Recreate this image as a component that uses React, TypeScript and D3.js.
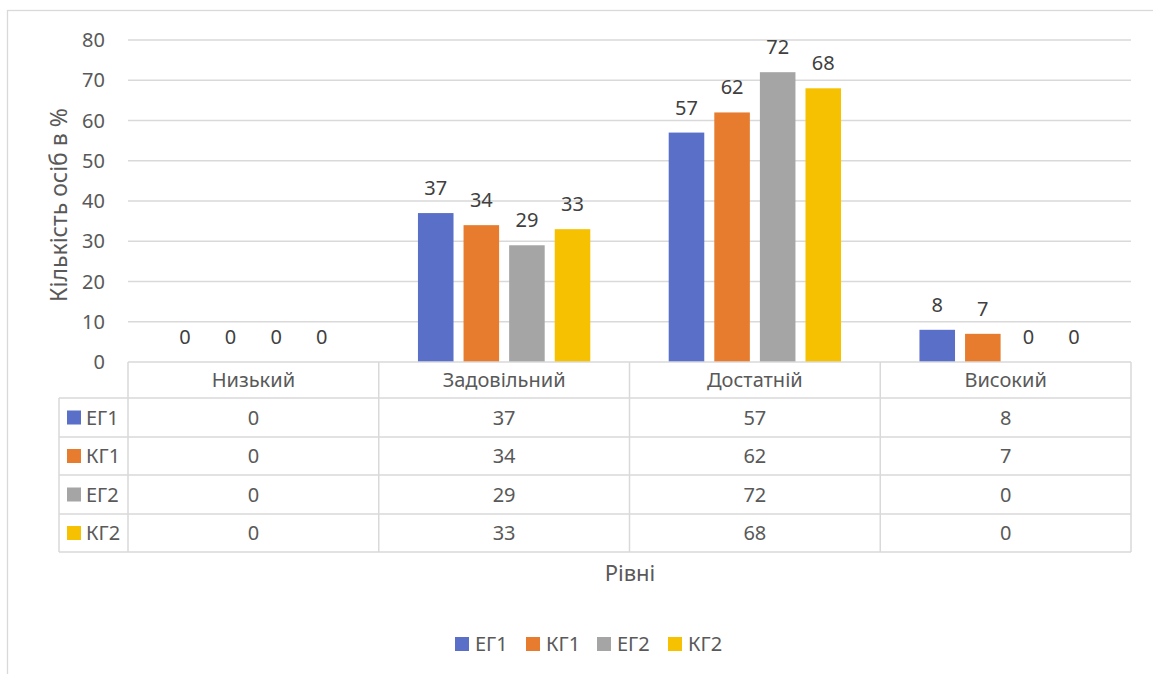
import React from "react";
import * as d3 from "d3";

const categories = ["Низький", "Задовільний", "Достатній", "Високий"];
const seriesNames = ["ЕГ1", "КГ1", "ЕГ2", "КГ2"];
const eg1 = [0, 37, 57, 8];
const kg1 = [0, 34, 62, 7];
const eg2 = [0, 29, 72, 0];
const kg2 = [0, 33, 68, 0];
const yTicks = [0, 10, 20, 30, 40, 50, 60, 70, 80];
const colors = ["#5A6FC7", "#E77C2F", "#A5A5A5", "#F6C100"];

const series = [eg1, kg1, eg2, kg2];

export default function App() {
  const width = 1153;
  const height = 674;
  const left = 128;
  const right = 1131;
  const top = 40;
  const bottom = 362;
  const font = "'Noto Sans', 'Open Sans', sans-serif";
  const fs = 20;
  const grid = "#d9d9d9";
  const textCol = "#595959";

  const x0 = d3.scaleBand().domain(categories).range([left, right]).padding(0);
  const x1 = d3
    .scaleBand()
    .domain(seriesNames)
    .range([0, x0.bandwidth()])
    .paddingInner(0.22)
    .paddingOuter(0.86);
  const y = d3.scaleLinear().domain([0, 80]).range([bottom, top]);

  // data table rows
  const headerTop = bottom;
  const rowEdges = [398, 437, 475, 514, 552];
  const tableLeft = 59;

  return (
    <svg
      width={width}
      height={height}
      style={{ position: "absolute", left: 0, top: 0, background: "#fff" }}
      fontFamily={font}
    >
      {/* outer frame */}
      <rect x={7.5} y={10.5} width={1160} height={680} fill="#fff" stroke={grid} strokeWidth={1.3} />

      {/* gridlines and ticks */}
      {yTicks.map((t) => (
        <g key={t}>
          {t > 0 && (
            <line x1={left} x2={right} y1={y(t)} y2={y(t)} stroke={grid} strokeWidth={1.3} />
          )}
          <text
            x={105}
            y={y(t)}
            dy="0.35em"
            textAnchor="end"
            fontSize={fs}
            fill={textCol}
          >
            {t}
          </text>
        </g>
      ))}

      {/* y axis title */}
      <text
        transform={`translate(67,205) rotate(-90)`}
        textAnchor="middle"
        fontSize={23}
        fill={textCol}
      >
        Кількість осіб в %
      </text>

      {/* bars */}
      {categories.map((c, ci) => (
        <g key={c} transform={`translate(${x0(c)},0)`}>
          {seriesNames.map((s, si) => {
            const v = series[si][ci];
            const bx = x1(s)!;
            return (
              <g key={s}>
                {v > 0 && (
                  <rect
                    x={bx}
                    y={y(v)}
                    width={x1.bandwidth()}
                    height={y(0) - y(v)}
                    fill={colors[si]}
                  />
                )}
                <text
                  x={bx + x1.bandwidth() / 2}
                  y={y(v) - 18}
                  textAnchor="middle"
                  fontSize={fs}
                  fill="#404040"
                >
                  {v}
                </text>
              </g>
            );
          })}
        </g>
      ))}

      {/* data table */}
      <g stroke={grid} strokeWidth={1.5}>
        <line x1={left} x2={right} y1={headerTop} y2={headerTop} />
        {rowEdges.map((ry) => (
          <line key={ry} x1={tableLeft} x2={right} y1={ry} y2={ry} />
        ))}
        <line x1={tableLeft} x2={tableLeft} y1={rowEdges[0]} y2={rowEdges[rowEdges.length - 1]} />
        {categories.map((c) => (
          <line
            key={c}
            x1={x0(c)}
            x2={x0(c)}
            y1={headerTop}
            y2={rowEdges[rowEdges.length - 1]}
          />
        ))}
        <line x1={right} x2={right} y1={headerTop} y2={rowEdges[rowEdges.length - 1]} />
      </g>
      {categories.map((c) => (
        <text
          key={c}
          x={x0(c)! + x0.bandwidth() / 2}
          y={(headerTop + rowEdges[0]) / 2}
          dy="0.35em"
          textAnchor="middle"
          fontSize={fs}
          fill={textCol}
        >
          {c}
        </text>
      ))}
      {seriesNames.map((s, si) => {
        const cy = (rowEdges[si] + rowEdges[si + 1]) / 2;
        return (
          <g key={s}>
            <rect x={67} y={cy - 7} width={14} height={14} fill={colors[si]} />
            <text x={86} y={cy} dy="0.35em" fontSize={fs} fill={textCol}>
              {s}
            </text>
            {categories.map((c, ci) => (
              <text
                key={c}
                x={x0(c)! + x0.bandwidth() / 2}
                y={cy}
                dy="0.35em"
                textAnchor="middle"
                fontSize={fs}
                fill={textCol}
              >
                {series[si][ci]}
              </text>
            ))}
          </g>
        );
      })}

      {/* x axis title */}
      <text x={630} y={581} textAnchor="middle" fontSize={22} fill={textCol}>
        Рівні
      </text>

      {/* legend */}
      {seriesNames.map((s, si) => (
        <g key={s} transform={`translate(${455 + si * 71},637)`}>
          <rect width={14} height={14} fill={colors[si]} />
          <text x={20} y={7} dy="0.35em" fontSize={fs} fill={textCol}>
            {s}
          </text>
        </g>
      ))}
    </svg>
  );
}
